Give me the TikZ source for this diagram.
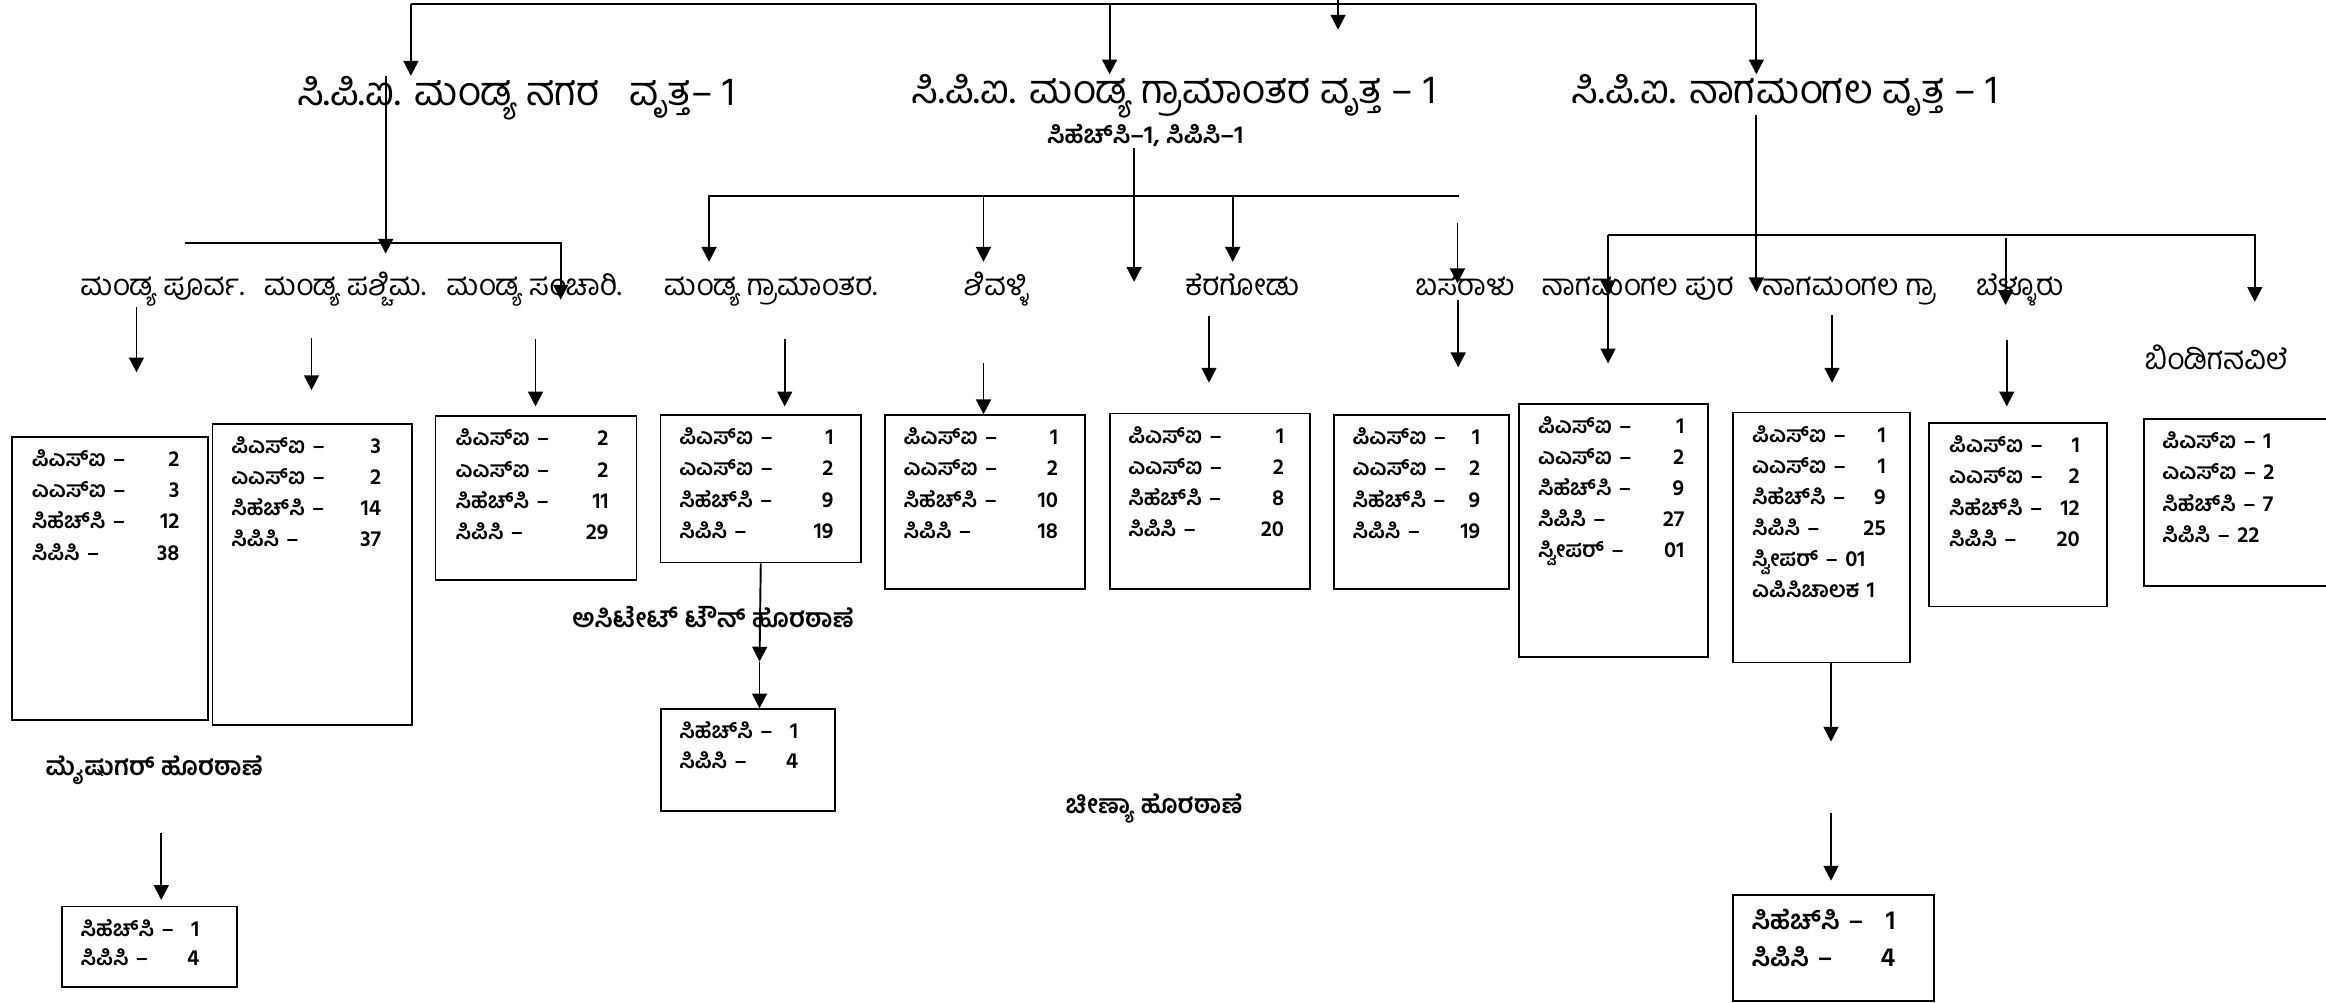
\documentclass[tikz,border=0pt]{standalone}
\usepackage{fontspec}
\newfontfamily\kn[Script=Kannada]{Hind Mysuru}
\usetikzlibrary{
  arrows.meta,
  positioning,
}
\tikzstyle{conn} = [
  -{Triangle[length=10pt,width=10pt]},
  line width=1.3pt,
]
\tikzstyle{bus} = [line width=1.3pt]
\tikzstyle{staffbox} = [rectangle,draw,line width=1.2pt,inner sep=0,anchor=north west]
\tikzstyle{staff} = [inner sep=0,anchor=north west,align=left,font=\kn\bfseries\fontsize{15}{21}\selectfont]
\tikzstyle{cpi} = [inner sep=0,anchor=base,font=\kn\fontsize{27}{30}\selectfont]
\tikzstyle{cpisub} = [inner sep=0,anchor=base,font=\kn\bfseries\fontsize{17}{20}\selectfont]
\tikzstyle{stn} = [inner sep=0,anchor=base,font=\kn\fontsize{20}{24}\selectfont]
\tikzstyle{outpost} = [inner sep=0,anchor=base,font=\kn\bfseries\fontsize{17.5}{20}\selectfont]

\begin{document}
\begin{tikzpicture}[x=1pt,y=-1pt]
      \useasboundingbox (0,0) rectangle (1568,676);

      \node[cpi] (cpi1) at (348,71)    {ಸಿ.ಪಿ.ಐ. ಮಂಡ್ಯ ನಗರ\ \ \ ವೃತ್ತ– 1};
      \node[cpi] (cpi2) at (791.5,70)  {ಸಿ.ಪಿ.ಐ. ಮಂಡ್ಯ ಗ್ರಾಮಾಂತರ ವೃತ್ತ – 1};
      \node[cpisub] (cpi2sub) at (772,97) {ಸಿಹೆಚ್^^^^200cಸಿ–1, ಸಿಪಿಸಿ–1};
      \node[cpi] (cpi3) at (1203.5,70) {ಸಿ.ಪಿ.ಐ. ನಾಗಮಂಗಲ ವೃತ್ತ – 1};

      \node[stn] (stn11) at (109.5,199)  {ಮಂಡ್ಯ ಪೂರ್ವ.};
      \node[stn] (stn12) at (232.5,199)  {ಮಂಡ್ಯ ಪಶ್ಚಿಮ.};
      \node[stn] (stn13) at (360,199)    {ಮಂಡ್ಯ ಸಂಚಾರಿ.};
      \node[stn] (stn21) at (519.5,199)  {ಮಂಡ್ಯ ಗ್ರಾಮಾಂತರ.};
      \node[stn] (stn22) at (671.5,199)  {ಶಿವಳ್ಳಿ};
      \node[stn] (stn23) at (837.5,199)  {ಕೆರಗೋಡು};
      \node[stn] (stn24) at (987.5,199)  {ಬಸರಾಳು};
      \node[stn] (stn31) at (1104,199)   {ನಾಗಮಂಗಲ ಪುರ};
      \node[stn] (stn32) at (1246.5,199) {ನಾಗಮಂಗಲ ಗ್ರಾ};
      \node[stn] (stn33) at (1361.5,199) {ಬೆಳ್ಳೂರು};
      \node[stn] (stn34) at (1494,249)   {ಬಿಂಡಿಗನವಿಲೆ};

      \node[staffbox,minimum width=131.9,minimum height=190.7] (box11) at (7.7,294) {};
      \node[staff,text width=99.5pt,xshift=13.6,yshift=-9] (txt11) at (box11.north west)
        {ಪಿಎಸ್^^^^200cಐ –\hfill 2\\ ಎಎಸ್^^^^200cಐ –\hfill 3\\ ಸಿಹೆಚ್^^^^200cಸಿ –\hfill 12\\ ಸಿಪಿಸಿ –\hfill 38};
      \node[staffbox,minimum width=134.6,minimum height=203.3] (box12) at (142.7,285) {};
      \node[staff,text width=101pt,xshift=13,yshift=-9] (txt12) at (box12.north west)
        {ಪಿಎಸ್^^^^200cಐ –\hfill 3\\ ಎಎಸ್^^^^200cಐ –\hfill 2\\ ಸಿಹೆಚ್^^^^200cಸಿ –\hfill 14\\ ಸಿಪಿಸಿ –\hfill 37};
      \node[staffbox,minimum width=135.5,minimum height=110.3] (box13) at (293,280) {};
      \node[staff,text width=103pt,xshift=14,yshift=-9] (txt13) at (box13.north west)
        {ಪಿಎಸ್^^^^200cಐ –\hfill 2\\ ಎಎಸ್^^^^200cಐ –\hfill 2\\ ಸಿಹೆಚ್^^^^200cಸಿ –\hfill 11\\ ಸಿಪಿಸಿ –\hfill 29};

      \node[staffbox,minimum width=135.1,minimum height=99.3] (box21) at (444.7,279.3) {};
      \node[staff,text width=104pt,xshift=13,yshift=-9] (txt21) at (box21.north west)
        {ಪಿಎಸ್^^^^200cಐ –\hfill 1\\ ಎಎಸ್^^^^200cಐ –\hfill 2\\ ಸಿಹೆಚ್^^^^200cಸಿ –\hfill 9\\ ಸಿಪಿಸಿ –\hfill 19};
      \node[staffbox,minimum width=135,minimum height=117.3] (box22) at (596,279.3) {};
      \node[staff,text width=104pt,xshift=13,yshift=-9] (txt22) at (box22.north west)
        {ಪಿಎಸ್^^^^200cಐ –\hfill 1\\ ಎಎಸ್^^^^200cಐ –\hfill 2\\ ಸಿಹೆಚ್^^^^200cಸಿ –\hfill 10\\ ಸಿಪಿಸಿ –\hfill 18};
      \node[staffbox,minimum width=135,minimum height=118.4] (box23) at (747.4,278.2) {};
      \node[staff,text width=105pt,xshift=13,yshift=-9] (txt23) at (box23.north west)
        {ಪಿಎಸ್^^^^200cಐ –\hfill 1\\ ಎಎಸ್^^^^200cಐ –\hfill 2\\ ಸಿಹೆಚ್^^^^200cಸಿ –\hfill 8\\ ಸಿಪಿಸಿ –\hfill 20};
      \node[staffbox,minimum width=118,minimum height=117.3] (box24) at (898.6,279.3) {};
      \node[staff,text width=86pt,xshift=13,yshift=-9] (txt24) at (box24.north west)
        {ಪಿಎಸ್^^^^200cಐ –\hfill 1\\ ಎಎಸ್^^^^200cಐ –\hfill 2\\ ಸಿಹೆಚ್^^^^200cಸಿ –\hfill 9\\ ಸಿಪಿಸಿ –\hfill 19};

      \node[staffbox,minimum width=127.2,minimum height=170.7] (box31) at (1023.6,271.5) {};
      \node[staff,text width=98.6pt,xshift=13,yshift=-9] (txt31) at (box31.north west)
        {ಪಿಎಸ್^^^^200cಐ –\hfill 1\\ ಎಎಸ್^^^^200cಐ –\hfill 2\\ ಸಿಹೆಚ್^^^^200cಸಿ –\hfill 9\\ ಸಿಪಿಸಿ –\hfill 27\\ ಸ್ವೀಪರ್ –\hfill 01};
      \node[staffbox,minimum width=119.5,minimum height=168.5] (box32) at (1167.5,277.5) {};
      \node[staff,text width=90pt,xshift=13.5,yshift=-9] (txt32) at (box32.north west)
        {ಪಿಎಸ್^^^^200cಐ –\hfill 1\\ ಎಎಸ್^^^^200cಐ –\hfill 1\\ ಸಿಹೆಚ್^^^^200cಸಿ –\hfill 9\\ ಸಿಪಿಸಿ –\hfill 25\\ ಸ್ವೀಪರ್ – 01\\ ಎಪಿಸಿಚಾಲಕ 1};
      \node[staffbox,minimum width=119.8,minimum height=123.6] (box33) at (1299.8,284.7) {};
      \node[staff,text width=88pt,xshift=14,yshift=-9] (txt33) at (box33.north west)
        {ಪಿಎಸ್^^^^200cಐ –\hfill 1\\ ಎಎಸ್^^^^200cಐ –\hfill 2\\ ಸಿಹೆಚ್^^^^200cಸಿ –\hfill 12\\ ಸಿಪಿಸಿ –\hfill 20};
      \node[staffbox,minimum width=130,minimum height=112.4] (box34) at (1444.5,282) {};
      \node[staff,text width=90pt,xshift=13,yshift=-9] (txt34) at (box34.north west)
        {ಪಿಎಸ್^^^^200cಐ – 1\\ ಎಎಸ್^^^^200cಐ – 2\\ ಸಿಹೆಚ್^^^^200cಸಿ – 7\\ ಸಿಪಿಸಿ – 22};

      \node[outpost] (op11) at (104,523)   {ಮೈಷುಗರ್ ಹೊರಠಾಣೆ};
      \node[outpost] (op21) at (480.7,423) {ಅಸಿಟೇಟ್ ಟೌನ್ ಹೊರಠಾಣೆ};
      \node[outpost] (op32) at (778,548.7) {ಚೀಣ್ಯಾ ಹೊರಠಾಣೆ};

      \node[staffbox,minimum width=118,minimum height=54.2] (box41) at (41.4,610.5) {};
      \node[staff,text width=80pt,xshift=12.8,yshift=-9,font=\kn\bfseries\fontsize{15}{20}\selectfont] (txt41) at (box41.north west)
        {ಸಿಹೆಚ್^^^^200cಸಿ –\hfill 1\\ ಸಿಪಿಸಿ –\hfill 4};
      \node[staffbox,minimum width=117.3,minimum height=68.5] (box42) at (445,477.5) {};
      \node[staff,text width=80pt,xshift=12.8,yshift=-9,font=\kn\bfseries\fontsize{15}{20}\selectfont] (txt42) at (box42.north west)
        {ಸಿಹೆಚ್^^^^200cಸಿ –\hfill 1\\ ಸಿಪಿಸಿ –\hfill 4};
      \node[staffbox,minimum width=135.5,minimum height=71.3] (box43) at (1167.6,602.7) {};
      \node[staff,text width=97pt,xshift=13,yshift=-10,font=\kn\bfseries\fontsize{18}{25}\selectfont] (txt43) at (box43.north west)
        {ಸಿಹೆಚ್^^^^200cಸಿ –\hfill 1\\ ಸಿಪಿಸಿ –\hfill 4};

      % top bus
      \coordinate (bus0) at (277,3);
      \coordinate (bus1) at (1184,3);
      \coordinate (bus2) at (748,3);
      \coordinate (top0) at (902,0);
      \coordinate (top1) at (902,20);
      \draw[bus] (bus0) -- (bus1);
      \draw[conn] (top0) -- (top1);
      \draw[conn] (bus0) -- (cpi1.north -| bus0);
      \draw[conn] (bus2) -- (cpi2.north -| bus2);
      \draw[conn] (bus1) -- (cpi3.north -| bus1);

      % mandya nagara
      \coordinate (g1top) at (260,51);
      \coordinate (g1tip) at (260,171);
      \coordinate (g1l) at (125,164);
      \coordinate (g1r) at (378,164);
      \coordinate (g1rtip) at (378,202);
      \draw[conn] (g1top) -- (g1tip);
      \draw[conn] (g1l) -- (g1r) -- (g1rtip);

      % mandya gramantara
      \coordinate (g2l) at (478,132);
      \coordinate (g2r) at (983.5,132);
      \coordinate (g2ltip) at (478,176.5);
      \coordinate (g2a) at (663,132);
      \coordinate (g2b) at (831,132);
      \coordinate (g2top) at (764.5,100);
      \coordinate (g2tip) at (764.5,190);
      \coordinate (g2e) at (982.5,150);
      \coordinate (g2etip) at (982.5,191);
      \draw[conn] (g2r) -- (g2l) -- (g2ltip);
      \draw[conn] (g2a) -- (g2a |- g2ltip);
      \draw[conn] (g2b) -- (g2b |- g2ltip);
      \draw[conn] (g2top) -- (g2tip);
      \draw[conn] (g2e) -- (g2etip);

      % nagamangala
      \coordinate (g3top) at (1184,77.5);
      \coordinate (g3tip) at (1184,197);
      \coordinate (g3l) at (1084,158.4);
      \coordinate (g3r) at (1520,158.4);
      \coordinate (g3rtip) at (1520,203.5);
      \coordinate (g3lmid) at (1084,199);
      \coordinate (g3ltip) at (1084,245);
      \coordinate (g3b) at (1352,160.7);
      \coordinate (g3btip) at (1352,205.6);
      \draw[conn] (g3top) -- (g3tip);
      \draw[conn] (g3l) -- (g3r) -- (g3rtip);
      \draw[conn] (g3l) -- (g3lmid);
      \draw[conn] (g3lmid) -- (g3ltip);
      \draw[conn] (g3b) -- (g3btip);

      % stations to boxes
      \coordinate (a11) at (92,207);    \coordinate (a11tip) at (92,251);
      \coordinate (a12) at (210,228);   \coordinate (a12tip) at (210,263);
      \coordinate (a13) at (361,228.7); \coordinate (a13tip) at (361,274);
      \coordinate (a21) at (529,228.7); \coordinate (a21tip) at (529,274);
      \coordinate (a22) at (663,245);
      \coordinate (a23) at (815,213);   \coordinate (a23tip) at (815,258);
      \coordinate (a24) at (983,202);   \coordinate (a24tip) at (983,247.6);
      \coordinate (a32) at (1235,212.4); \coordinate (a32tip) at (1235,258);
      \coordinate (a33) at (1352.8,229); \coordinate (a33tip) at (1352.8,274);
      \draw[conn] (a11) -- (a11tip);
      \draw[conn] (a12) -- (a12tip);
      \draw[conn] (a13) -- (a13tip);
      \draw[conn] (a21) -- (a21tip);
      \draw[conn] (a22) -- (a22 |- box22.north);
      \draw[conn] (a23) -- (a23tip);
      \draw[conn] (a24) -- (a24tip);
      \draw[conn] (a32) -- (a32tip);
      \draw[conn] (a33) -- (a33tip);

      % outposts
      \coordinate (m1) at (512,446);
      \draw[conn] (box21.south) -- (m1);
      \draw[conn] (m1) -- (m1 |- box42.north);
      \coordinate (m2) at (108.7,561.7); \coordinate (m2tip) at (108.7,606.7);
      \draw[conn] (m2) -- (m2tip);
      \coordinate (n1) at (1234.3,500);
      \coordinate (n2) at (1234.3,548.3); \coordinate (n2tip) at (1234.3,593.7);
      \draw[conn] (box32.south -| n1) -- (n1);
      \draw[conn] (n2) -- (n2tip);
\end{tikzpicture}
\end{document}
